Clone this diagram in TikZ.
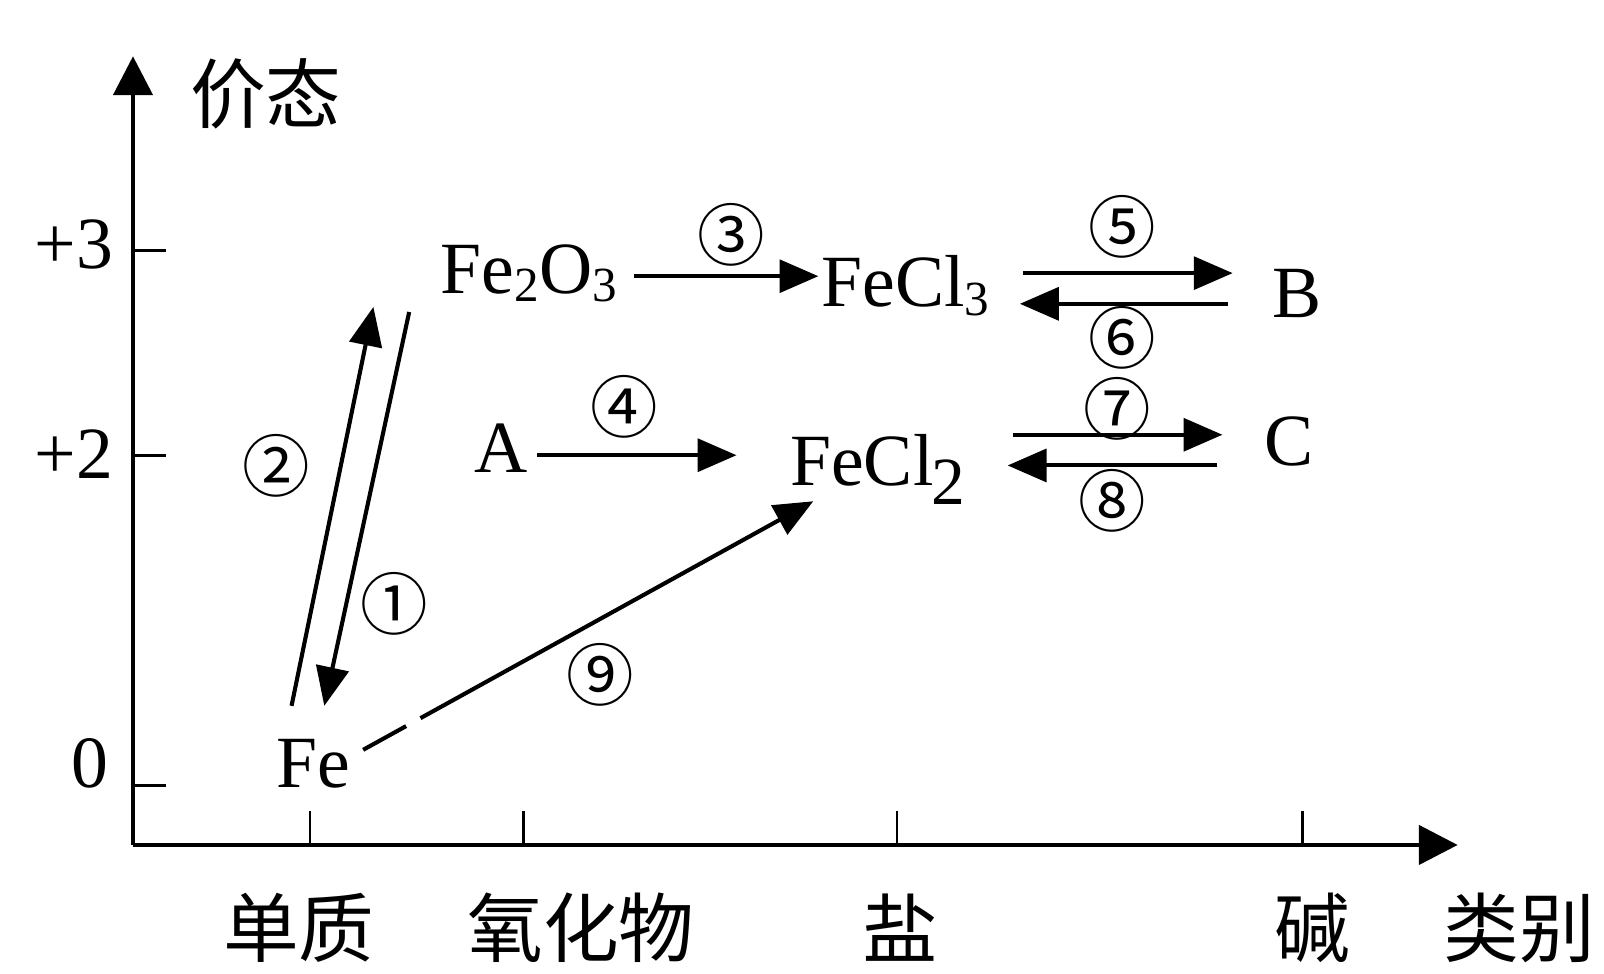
\documentclass[tikz,border=0pt]{standalone}
\usepackage{fontspec}
\setmainfont{Liberation Serif}
\newfontfamily\cjk{Noto Sans CJK SC}
\usetikzlibrary{arrows.meta}
\tikzset{
  chem/.style={font=\fontsize{36}{40}\selectfont, inner sep=0pt, anchor=base},
  zh/.style={font=\cjk\fontsize{37}{40}\selectfont, inner sep=0pt},
  num/.style={font=\cjk\fontsize{33}{36}\selectfont, inner sep=0pt},
  arr/.style={line width=2pt, -{Triangle[length=19pt,width=16pt]}},
  axis/.style={line width=2.4pt, -{Triangle[length=19pt,width=19pt]}},
  tick/.style={line width=1.3pt}
}
\newcommand{\subsc}[1]{\raisebox{-4pt}{\fontsize{24}{24}\selectfont #1}}
\begin{document}
\begin{tikzpicture}[x=0.5pt, y=-0.5pt]
\useasboundingbox (0,0) rectangle (1568,952);

% axes
\coordinate (origin) at (130,826);
\coordinate (ytip) at (130,55);
\coordinate (xtip) at (1425,826);
\draw[axis] (origin) -- (ytip);
\draw[axis] (origin) -- (xtip);

% valence ticks
\foreach \yy/\nm in {245/t3, 445/t2, 768/t0} {
  \coordinate (\nm) at (130,\yy);
  \draw[tick] (\nm) -- ++(32,0);
}
\node[chem] (l3) at (72,262) {+3};
\node[chem] (l2) at (72,468) {+2};
\node[chem] (l0) at (88,770) {0};
\node[zh] (valence) at (260,92) {价态};

% class ticks
\foreach \xx/\nm in {303/c1, 512/c2, 877/c3, 1273/c4} {
  \coordinate (\nm) at (\xx,826);
  \draw[tick] (\nm) -- ++(0,-33);
}
\node[zh] (k1) at (292,907) {单质};
\node[zh] (k2) at (568,907) {氧化物};
\node[zh] (k3) at (880,907) {盐};
\node[zh] (k4) at (1283,907) {碱};
\node[zh] (k5) at (1485,907) {类别};

% substances
\node[chem] (fe) at (306,770) {Fe};
\node[chem] (fe2o3) at (517,287) {Fe\subsc{2}O\subsc{3}};
\node[chem] (fecl3) at (885,300) {FeCl\subsc{3}};
\node[chem] (b) at (1268,310) {B};
\node[chem] (a) at (490,462) {A};
\node[chem] (fecl2) at (858,475) {FeCl\kern-1pt\raisebox{-9pt}{\fontsize{33}{33}\selectfont 2}};
\node[chem] (c) at (1260,455) {C};

% reactions
\draw[arr] ([shift={(-21,-80)}]fe.base) -- ([shift={(-152,13)}]fe2o3.base);
\draw[arr] ([shift={(-117,18)}]fe2o3.base) -- ([shift={(11,-80)}]fe.base);
\draw[arr] ([shift={(103,-17)}]fe2o3.base) -- ([shift={(-85,-30)}]fecl3.base);
\draw[arr] ([shift={(35,-17)}]a.base) -- ([shift={(-138,-30)}]fecl2.base);
\draw[arr] ([shift={(115,-33)}]fecl3.base) -- ([shift={(-63,-43)}]b.base);
\draw[arr] ([shift={(-68,-13)}]b.base) -- ([shift={(112,-3)}]fecl3.base);
\draw[arr] ([shift={(132,-50)}]fecl2.base) -- ([shift={(-65,-30)}]c.base);
\draw[arr] ([shift={(-70,0)}]c.base) -- ([shift={(127,-20)}]fecl2.base);
\draw[arr, dash pattern=on 24pt off 8pt on 1000pt]
  ([shift={(49,-37)}]fe.base) -- ([shift={(-63,15)}]fecl2.base);

% reaction numbers
\node[num] (n1) at (385,590) {①};
\node[num] (n2) at (270,455) {②};
\node[num] (n3) at (715,230) {③};
\node[num] (n4) at (610,398) {④};
\node[num] (n5) at (1097,222) {⑤};
\node[num] (n6) at (1097,330) {⑥};
\node[num] (n7) at (1092,400) {⑦};
\node[num] (n8) at (1087,490) {⑧};
\node[num] (n9) at (587,660) {⑨};
\end{tikzpicture}
\end{document}
